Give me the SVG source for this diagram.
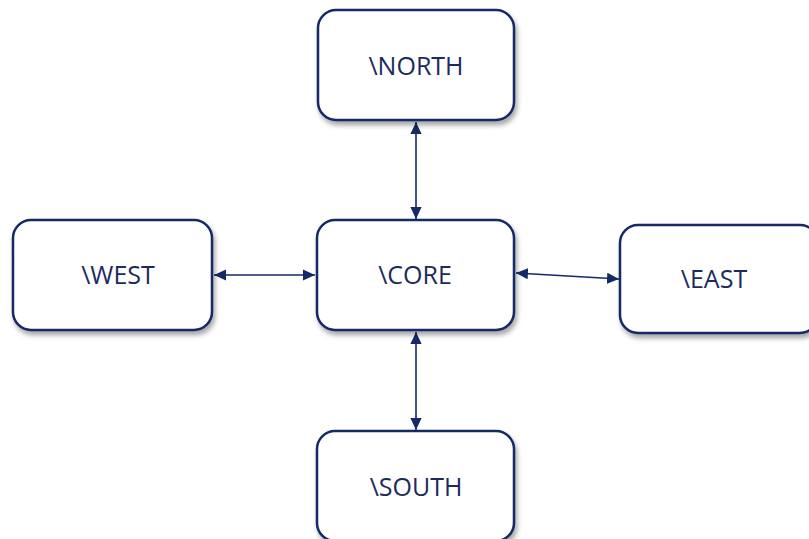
<svg xmlns="http://www.w3.org/2000/svg" width="809" height="539" viewBox="0 0 809 539">
<defs>
<filter id="sh" x="-10%" y="-10%" width="130%" height="140%">
<feGaussianBlur in="SourceAlpha" stdDeviation="2.5"/>
<feOffset dx="2" dy="4" result="b"/>
<feComponentTransfer><feFuncA type="linear" slope="0.35"/></feComponentTransfer>
<feMerge><feMergeNode/><feMergeNode in="SourceGraphic"/></feMerge>
</filter>
<marker id="ah" viewBox="0 0 10 10" refX="10" refY="5" markerWidth="7.5" markerHeight="7" orient="auto-start-reverse" markerUnits="strokeWidth" preserveAspectRatio="none">
<path d="M0,0 L10,5 L0,10 Z" fill="#142a66"/>
</marker>
<style>
.box{fill:#fff;stroke:#142a66;stroke-width:2.5;filter:url(#sh)}
.lbl{font-family:"Open Sans","Liberation Sans",sans-serif;font-size:25px;fill:#1c2b5e;text-anchor:middle}
.con{stroke:#142a66;stroke-width:1.6;fill:none;marker-start:url(#ah);marker-end:url(#ah)}
</style>
</defs>
<g id="connectors">
<line class="con" x1="416" y1="122" x2="416" y2="219"/>
<line class="con" x1="214" y1="275" x2="315" y2="275"/>
<line class="con" x1="516" y1="273" x2="619" y2="279"/>
<line class="con" x1="416" y1="332" x2="416" y2="430"/>
</g>
<g id="north"><rect class="box" x="318" y="10" width="196" height="110" rx="18"/><text class="lbl" x="416" y="75">\NORTH</text></g>
<g id="core"><rect class="box" x="317" y="220" width="197" height="110" rx="18"/><text class="lbl" x="415" y="284">\CORE</text></g>
<g id="west"><rect class="box" x="13" y="220" width="199" height="110" rx="18"/><text class="lbl" x="118" y="284">\WEST</text></g>
<g id="east"><rect class="box" x="620" y="225" width="198" height="108" rx="18"/><text class="lbl" x="714" y="288">\EAST</text></g>
<g id="south"><rect class="box" x="317" y="431" width="197" height="110" rx="18"/><text class="lbl" x="416" y="496">\SOUTH</text></g>
</svg>
